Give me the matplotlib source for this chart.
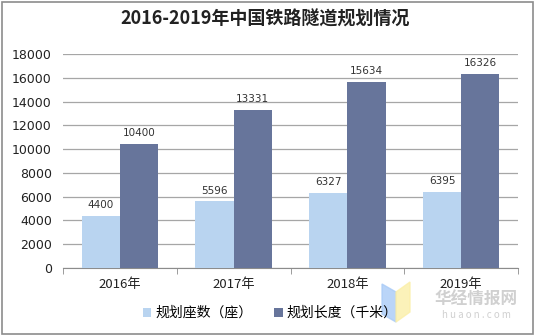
import matplotlib.pyplot as plt
import numpy as np
from matplotlib.patches import Rectangle, Polygon

plt.rcParams['font.family'] = ['Noto Sans CJK SC', 'DejaVu Sans']

years = ['2016年', '2017年', '2018年', '2019年']
tunnel_count = [4400, 5596, 6327, 6395]
tunnel_length = [10400, 13331, 15634, 16326]
series_names = ['规划座数（座）', '规划长度（千米）']
colors = ['#B9D4F0', '#67759B']

fig = plt.figure(figsize=(5.35, 3.35), dpi=100)
fig.patch.set_facecolor('white')
# outer border
fig.add_artist(Rectangle((0.004, 0.004), 0.992, 0.99, transform=fig.transFigure,
                         fill=False, edgecolor='#8c8c8c', linewidth=1.2))

ax = fig.add_axes([63 / 535, 1 - 268 / 335, (518 - 63) / 535, (268 - 54) / 335])
x = np.arange(len(years))
w = 0.336
b1 = ax.bar(x - w / 2, tunnel_count, w, color=colors[0], label=series_names[0], zorder=3)
b2 = ax.bar(x + w / 2, tunnel_length, w, color=colors[1], label=series_names[1], zorder=3)

for bars in (b1, b2):
    for r in bars:
        ax.text(r.get_x() + r.get_width() / 2, r.get_height() + 500, f'{int(r.get_height())}',
                ha='center', va='bottom', fontsize=7.5, color='#333333', family='DejaVu Sans')

ax.set_xlim(-0.5, len(years) - 0.5)
ax.set_ylim(0, 18000)
ax.set_yticks(np.arange(0, 18001, 2000))
ax.yaxis.grid(True, color='#a6a6a6', linewidth=0.9, zorder=0)
ax.set_axisbelow(True)
for s in ['top', 'right', 'left']:
    ax.spines[s].set_visible(False)
ax.spines['bottom'].set_color('#8c8c8c')
ax.tick_params(axis='y', length=0, labelsize=9, colors='#222222', pad=8)
ax.set_xticks(x)
ax.set_xticklabels(years, fontsize=9.5, color='#222222')
ax.tick_params(axis='x', length=0, pad=7)
ax.set_xticks(np.arange(-0.5, len(years), 1), minor=True)
ax.tick_params(axis='x', which='minor', length=4, color='#8c8c8c', direction='out')
for lab in ax.get_yticklabels():
    lab.set_family('DejaVu Sans')

fig.text(0.495, 1 - 19 / 335, '2016-2019年中国铁路隧道规划情况', ha='center', va='center',
         fontsize=13, fontweight='bold', color='#222222')

fig.legend(loc='center', bbox_to_anchor=(0.505, 1 - 313 / 335), ncol=2, frameon=False,
           fontsize=10, handlelength=0.6, handleheight=0.6, columnspacing=1.6,
           handletextpad=0.3)

# watermark
fig.add_artist(Polygon([(382 / 535, 1 - 284 / 335), (396 / 535, 1 - 292 / 335),
                        (396 / 535, 1 - 322 / 335), (382 / 535, 1 - 314 / 335)],
                       closed=True, transform=fig.transFigure, color='#A9CBF7', alpha=0.8))
fig.add_artist(Polygon([(396 / 535, 1 - 292 / 335), (410 / 535, 1 - 282 / 335),
                        (410 / 535, 1 - 312 / 335), (396 / 535, 1 - 322 / 335)],
                       closed=True, transform=fig.transFigure, color='#FBEFA8', alpha=0.8))
fig.text(476 / 535, 1 - 300 / 335, '华经情报网', ha='center', va='center', fontsize=12,
         fontweight='bold', color='#c8c8c8', alpha=0.85)
fig.text(476 / 535, 1 - 315 / 335, 'h u a o n . c o m', ha='center', va='center', fontsize=7,
         color='#c8c8c8', alpha=0.85)

fig.savefig('out.png', dpi=100)
